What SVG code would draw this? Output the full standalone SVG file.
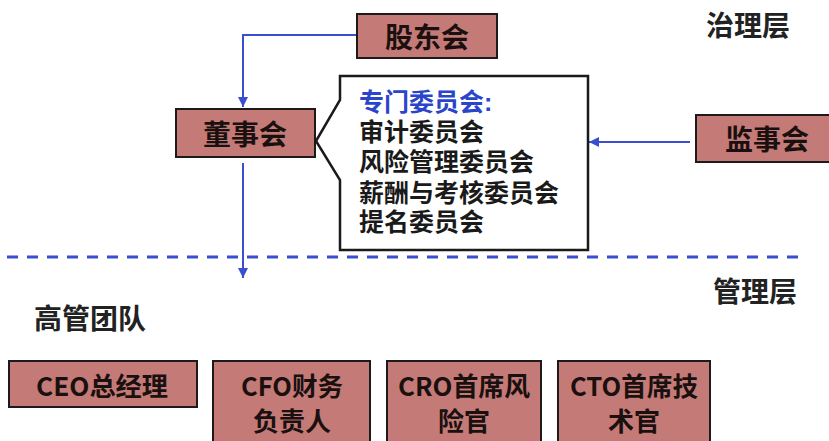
<svg xmlns="http://www.w3.org/2000/svg" width="829" height="441" viewBox="0 0 829 441">
<style>
.box{fill:#c47a76;stroke:#1e1a1a;stroke-width:2}
.bt{font-family:"Noto Sans CJK SC","Liberation Sans",sans-serif;font-size:28px;font-weight:bold;fill:#1a1010;text-anchor:middle;dominant-baseline:central}
.bs{font-family:"Noto Sans CJK SC","Liberation Sans",sans-serif;font-size:26px;font-weight:bold;fill:#1a1010;text-anchor:middle;dominant-baseline:central}
.lbl{font-family:"Noto Sans CJK SC","Liberation Sans",sans-serif;font-size:28px;font-weight:bold;fill:#222;dominant-baseline:central}
.ct{font-family:"Liberation Sans","Noto Sans CJK SC",sans-serif;font-size:25px;font-weight:bold;fill:#1a1a1a}
.conn{fill:none;stroke:#3a4ed0;stroke-width:2}
</style>
<defs>
<marker id="ah" viewBox="0 0 10 10" refX="10" refY="5" markerWidth="5" markerHeight="5" orient="auto" markerUnits="strokeWidth">
<path d="M0,0 L10,5 L0,10 Z" fill="#3a4ed0"/>
</marker>
</defs>
<rect width="829" height="441" fill="#ffffff"/>
<g id="connectors">
<line x1="7" y1="257" x2="805" y2="257" stroke="#3a4ed0" stroke-width="3" stroke-dasharray="11,9"/>
<polyline class="conn" points="357,35 243,35 243,107" marker-end="url(#ah)"/>
<line class="conn" x1="243" y1="163" x2="243" y2="278" marker-end="url(#ah)"/>
<line class="conn" x1="690" y1="142" x2="589" y2="142" marker-end="url(#ah)"/>
</g>
<g id="label-zhili"><text class="lbl" x="706" y="24">治理层</text></g>
<g id="label-guanli"><text class="lbl" x="713" y="290">管理层</text></g>
<g id="label-gaoguan"><text class="lbl" x="34" y="317">高管团队</text></g>
<g id="gudonghui">
<rect class="box" x="357" y="14" width="140" height="44"/>
<text class="bt" x="427" y="36">股东会</text>
</g>
<g id="dongshihui">
<rect class="box" x="176" y="109" width="139" height="48"/>
<text class="bt" x="245" y="133">董事会</text>
</g>
<g id="committees">
<path d="M340,76 H588 V250 H340 V180 L316,141 L340,100 Z" fill="#ffffff" stroke="#1a1a1a" stroke-width="2.5"/>
<text class="ct" x="359" y="111" style="fill:#2a44cc">专门委员会:</text>
<text class="ct" x="359" y="141">审计委员会</text>
<text class="ct" x="359" y="171">风险管理委员会</text>
<text class="ct" x="359" y="201.5">薪酬与考核委员会</text>
<text class="ct" x="359" y="231">提名委员会</text>
</g>
<g id="jianshihui">
<rect class="box" x="696" y="115" width="145" height="47"/>
<text class="bt" x="767" y="138">监事会</text>
</g>
<g id="ceo">
<rect class="box" x="9" y="361" width="188" height="46"/>
<text class="bs" x="102" y="384" textLength="132" lengthAdjust="spacingAndGlyphs">CEO总经理</text>
</g>
<g id="cfo">
<rect class="box" x="213" y="361" width="157" height="90"/>
<text class="bs" x="292" y="384" textLength="102" lengthAdjust="spacingAndGlyphs">CFO财务</text>
<text class="bs" x="292" y="419">负责人</text>
</g>
<g id="cro">
<rect class="box" x="387" y="361" width="154" height="90"/>
<text class="bs" x="464" y="384" textLength="132" lengthAdjust="spacingAndGlyphs">CRO首席风</text>
<text class="bs" x="464" y="419">险官</text>
</g>
<g id="cto">
<rect class="box" x="558" y="361" width="152" height="90"/>
<text class="bs" x="634" y="384" textLength="128" lengthAdjust="spacingAndGlyphs">CTO首席技</text>
<text class="bs" x="634" y="419">术官</text>
</g>
</svg>
